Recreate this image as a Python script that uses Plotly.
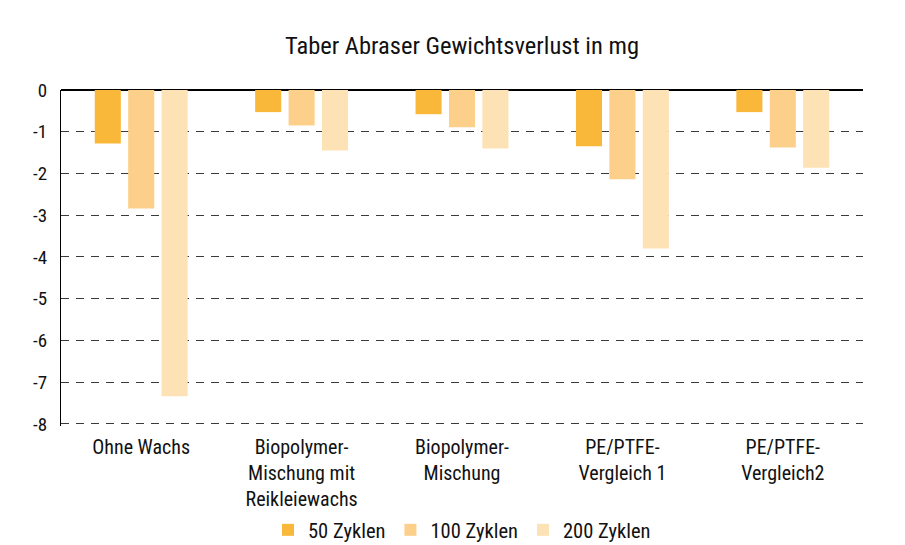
import plotly.graph_objects as go

categories = ["Ohne Wachs", "Biopolymer-<br>Mischung mit<br>Reikleiewachs", "Biopolymer-<br>Mischung",
              "PE/PTFE-<br>Vergleich 1", "PE/PTFE-<br>Vergleich2"]
series_names = ["50 Zyklen", "100 Zyklen", "200 Zyklen"]
values_50 = [-1.28, -0.53, -0.58, -1.35, -0.53]
values_100 = [-2.84, -0.85, -0.89, -2.14, -1.375]
values_200 = [-7.34, -1.45, -1.40, -3.80, -1.86]
colors = ["#f9b83a", "#fcd08a", "#fde2b6"]
y_ticks = [0, -1, -2, -3, -4, -5, -6, -7, -8]

FONT = "Roboto Condensed, Liberation Sans Narrow, sans-serif"
W, H = 897, 537  # page body adds an 8px offset

fig = go.Figure()
for name, vals, col in zip(series_names, [values_50, values_100, values_200], colors):
    fig.add_trace(go.Bar(x=categories, y=vals, name=name, marker=dict(color=col, line=dict(width=0))))

fig.update_layout(
    width=W, height=H,
    margin=dict(l=53, r=42, t=82, b=119),
    paper_bgcolor="#ebe9e4",
    plot_bgcolor="rgba(0,0,0,0)",
    barmode="group",
    bargap=0.375,
    bargroupgap=0.22,
    font=dict(family=FONT, size=20, color="#111111"),
    title=dict(text="Taber Abraser Gewichtsverlust in mg", x=0.5, xanchor="center", xref="paper",
               y=1 - 37 / H, yanchor="middle", yref="container",
               font=dict(family=FONT, size=24.5, color="#111111")),
    legend=dict(orientation="h", x=0.5, xanchor="center", xref="paper",
                y=1 - 522 / H, yanchor="middle", yref="container",
                font=dict(family=FONT, size=20.5), traceorder="normal",
                bgcolor="rgba(0,0,0,0)"),
    shapes=[dict(type="rect", xref="paper", yref="paper", x0=-0.5, x1=1.046, y0=-1.0, y1=1.5,
                 fillcolor="white", line=dict(width=0), layer="below")],
)
fig.update_xaxes(showgrid=False, showline=False, ticks="", tickfont=dict(size=20),
                 ticklabelstandoff=7, automargin=False)
fig.update_yaxes(range=[-8.05, 0], tickvals=y_ticks, ticktext=[str(v) for v in y_ticks],
                 showgrid=True, gridcolor="#3a3a3a", griddash="8px,7px", gridwidth=1,
                 zeroline=True, zerolinecolor="#000000", zerolinewidth=1.6,
                 showline=True, linecolor="#000000", linewidth=1.2, automargin=False,
                 ticks="", ticklabelstandoff=9, tickfont=dict(size=19))

fig.write_html("out.html")
